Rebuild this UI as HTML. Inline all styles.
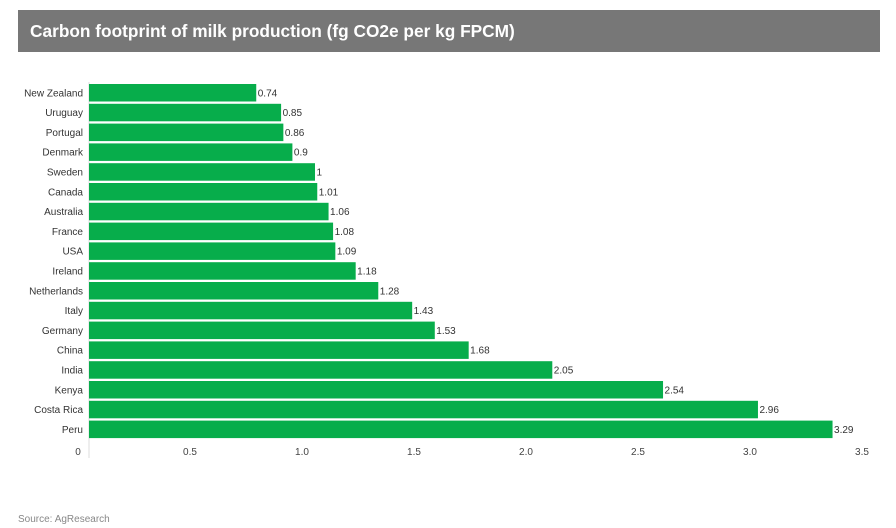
<!DOCTYPE html>
<html><head><meta charset="utf-8"><style>
body{margin:0;background:#fff;font-family:"Liberation Sans",Arial,sans-serif;}
svg{display:block}
</style></head><body>
<svg width="896" height="528">
<rect x="18" y="10" width="862" height="42" fill="#777777"/>
<text x="30" y="37" fill="#fff" font-size="17.3" font-weight="bold">Carbon footprint of milk production (fg CO2e per kg FPCM)</text>
<line x1="89" y1="82" x2="89" y2="458" stroke="#ddd"/>
<g id="bars"></g>
<g id="ticks"></g>
<text x="18" y="522" fill="#888" font-size="10">Source: AgResearch</text>
</svg>
<script>
const countries=["New Zealand","Uruguay","Portugal","Denmark","Sweden","Canada","Australia","France","USA","Ireland","Netherlands","Italy","Germany","China","India","Kenya","Costa Rica","Peru"];
const values=[0.74,0.85,0.86,0.9,1,1.01,1.06,1.08,1.09,1.18,1.28,1.43,1.53,1.68,2.05,2.54,2.96,3.29];
const valueLabels=["0.74","0.85","0.86","0.9","1","1.01","1.06","1.08","1.09","1.18","1.28","1.43","1.53","1.68","2.05","2.54","2.96","3.29"];
const tickValues=[0,0.5,1,1.5,2,2.5,3,3.5];
const tickLabels=["0","0.5","1.0","1.5","2.0","2.5","3.0","3.5"];
const NS="http://www.w3.org/2000/svg";
function xBar(v){return 89+v*226;}
function xTick(v){return 78+v*224;}
function yBand(i){return 84+i*19.8;}
const bh=17.5;
const gb=document.getElementById('bars');
countries.forEach((c,i)=>{
  const y=yBand(i);
  const r=document.createElementNS(NS,'rect');
  r.setAttribute('x',89);r.setAttribute('y',y);
  r.setAttribute('width',xBar(values[i])-89);r.setAttribute('height',bh);
  r.setAttribute('fill','#07ad4b');
  
  
  gb.appendChild(r);
  const t=document.createElementNS(NS,'text');
  t.setAttribute('x',83);t.setAttribute('y',y+bh/2+3.5);
  t.setAttribute('text-anchor','end');t.setAttribute('font-size','10');t.setAttribute('fill','#333');
  t.textContent=c;
  
  
  gb.appendChild(t);
  const v=document.createElementNS(NS,'text');
  v.setAttribute('x',xBar(values[i])+1.5);v.setAttribute('y',y+bh/2+3.5);
  v.setAttribute('font-size','10');v.setAttribute('fill','#333');
  v.textContent=valueLabels[i];
  
  
  gb.appendChild(v);
});
const gt=document.getElementById('ticks');
tickValues.forEach((tv,i)=>{
  const t=document.createElementNS(NS,'text');
  t.setAttribute('x',xTick(tv));t.setAttribute('y',455);
  t.setAttribute('text-anchor','middle');t.setAttribute('font-size','10');t.setAttribute('fill','#444');
  t.textContent=tickLabels[i];
  
  
  gt.appendChild(t);
});
</script>
</body></html>
